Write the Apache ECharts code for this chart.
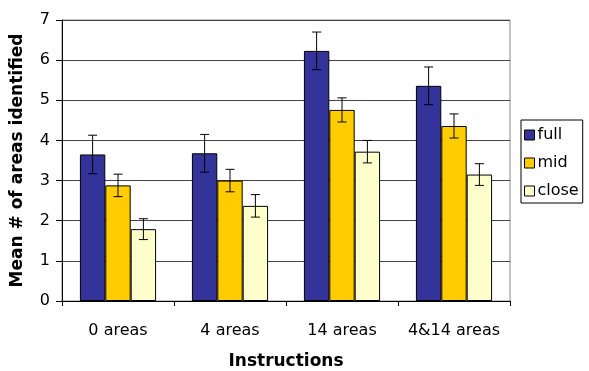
<!DOCTYPE html>
<html><head><meta charset="utf-8">
<script src="https://cdn.jsdelivr.net/npm/echarts@6/dist/echarts.min.js"></script>
<style>html,body{margin:0;padding:0;background:#fff}#c{width:589px;height:371px}</style>
</head><body><div id="c"></div>
<script>
const categories = ['0 areas', '4 areas', '14 areas', '4&14 areas'];
const seriesNames = ['full', 'mid', 'close'];
const fullVals  = [3.65, 3.68, 6.23, 5.36];
const midVals   = [2.88, 3.00, 4.76, 4.36];
const closeVals = [1.79, 2.37, 3.72, 3.15];
const fullErr   = [0.48, 0.47, 0.47, 0.47];
const midErr    = [0.28, 0.28, 0.30, 0.30];
const closeErr  = [0.26, 0.28, 0.28, 0.27];
const colors = ['#333399', '#FFCC00', '#FFFFCC'];

const vals = [fullVals, midVals, closeVals];
const errs = [fullErr, midErr, closeErr];
const FONT = 'DejaVu Sans';

const chart = echarts.init(document.getElementById('c'), null, {renderer: 'canvas'});
const gapPct = 32;
const series = [];
seriesNames.forEach((n, i) => {
  series.push({
    name: n, type: 'bar', data: vals[i], barGap: '0%', barCategoryGap: gapPct + '%',
    itemStyle: {color: colors[i], borderColor: '#000', borderWidth: 1},
    z: 2
  });
});
seriesNames.forEach((n, i) => {
  series.push({
    type: 'custom', name: n + '_err',
    data: vals[i].map((v, k) => [k, v, errs[i][k]]),
    z: 5,
    renderItem: function (params, api) {
      const k = api.value(0), v = api.value(1), e = api.value(2);
      const band = api.size([1, 0])[0];
      const barW = band * (1 - gapPct / 100) / 3;
      const cx = api.coord([k, v])[0] - band * (1 - gapPct / 100) / 2 + barW * (i + 0.5);
      const yt = api.coord([k, v + e])[1];
      const yb = api.coord([k, v - e])[1];
      const hw = 4.5;
      const st = {stroke: '#000', lineWidth: 1};
      return {type: 'group', children: [
        {type: 'line', shape: {x1: cx, y1: yt, x2: cx, y2: yb}, style: st},
        {type: 'line', shape: {x1: cx - hw, y1: yt, x2: cx + hw, y2: yt}, style: st},
        {type: 'line', shape: {x1: cx - hw, y1: yb, x2: cx + hw, y2: yb}, style: st}
      ]};
    }
  });
});

chart.setOption({
  animation: false,
  grid: {left: 62, right: 79, top: 20, bottom: 70, containLabel: false, outerBoundsMode: 'none',
         show: true, borderColor: '#888', borderWidth: 1, backgroundColor: '#fff'},
  legend: {
    data: seriesNames, orient: 'vertical', left: 521, top: 120, width: 67,
    padding: [7, 4, 4, 3], itemGap: 12, itemWidth: 10, itemHeight: 10,
    borderColor: '#000', borderWidth: 1, borderRadius: 0,
    textStyle: {fontFamily: FONT, fontSize: 16, color: '#000', padding: [0, 0, 0, -2]},
    itemStyle: {borderColor: '#000', borderWidth: 1},
    icon: 'rect'
  },
  xAxis: {
    type: 'category', data: categories,
    name: 'Instructions', nameLocation: 'middle', nameGap: 52,
    nameTextStyle: {fontFamily: FONT, fontSize: 17, fontWeight: 'bold', color: '#000'},
    axisLine: {lineStyle: {color: '#000'}},
    axisTick: {show: true, length: 5, lineStyle: {color: '#000'}},
    axisLabel: {interval: 0, fontFamily: FONT, fontSize: 16, color: '#000', margin: 22}
  },
  yAxis: {
    type: 'value', min: 0, max: 7, interval: 1,
    name: 'Mean # of areas identified', nameLocation: 'middle', nameGap: 36,
    nameTextStyle: {fontFamily: FONT, fontSize: 17, fontWeight: 'bold', color: '#000'},
    axisLine: {show: true, lineStyle: {color: '#000'}},
    axisTick: {show: true, length: 6, lineStyle: {color: '#000'}},
    axisLabel: {fontFamily: FONT, fontSize: 16, color: '#000', margin: 12},
    splitLine: {lineStyle: {color: '#444'}}
  },
  series: series
});
</script></body></html>
